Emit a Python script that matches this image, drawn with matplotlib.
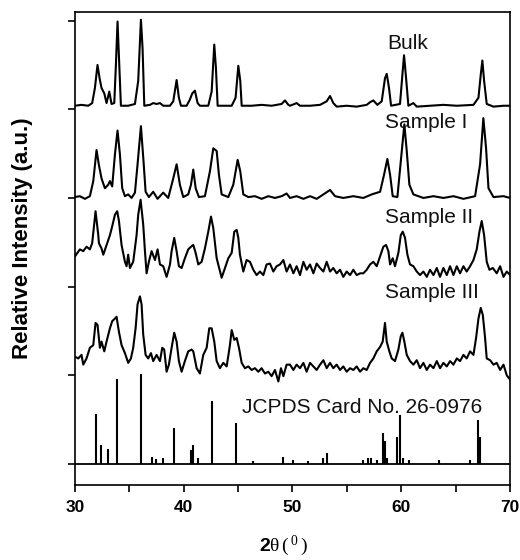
import matplotlib
matplotlib.use('Agg')
import matplotlib.pyplot as plt
from matplotlib.ticker import MultipleLocator

plt.rcParams['font.family'] = ['Liberation Sans', 'DejaVu Sans']
plt.rcParams['mathtext.fontset'] = 'custom'
plt.rcParams['mathtext.rm'] = 'Liberation Serif'
plt.rcParams['mathtext.it'] = 'Liberation Serif:italic'
plt.rcParams['mathtext.bf'] = 'Liberation Sans:bold'

# --- data (2theta in degrees, stacked intensity in a.u.) ---
bulk_tt = [30.00, 30.61, 31.23, 31.59, 31.84, 32.08, 32.27, 32.45, 32.70, 32.91, 33.16, 33.37,
           33.62, 33.77, 33.92, 34.08, 34.23, 34.90, 35.52, 35.82, 36.07, 36.22, 36.38, 36.90,
           37.20, 37.51, 37.82, 38.12, 38.74, 39.04, 39.35, 39.56, 39.75, 40.27, 40.57, 40.79,
           41.03, 41.28, 41.49, 42.26, 42.57, 42.81, 42.96, 43.12, 44.41, 44.77, 45.02, 45.20,
           45.33, 46.24, 47.16, 48.08, 49.00, 49.31, 49.62, 49.77, 50.38, 50.69, 51.61, 52.53,
           53.14, 53.45, 53.75, 54.06, 54.98, 55.90, 56.82, 57.13, 57.43, 57.80, 58.20, 58.50,
           58.66, 58.87, 59.06, 59.88, 60.10, 60.25, 60.44, 60.65, 61.11, 61.42, 62.64, 63.87,
           65.10, 66.63, 67.09, 67.30, 67.45, 67.61, 67.85, 68.47, 69.39, 70.00]
bulk_y = [4.04, 4.05, 4.04, 4.07, 4.24, 4.50, 4.35, 4.24, 4.18, 4.07, 4.20, 4.06,
          4.07, 4.50, 4.99, 4.50, 4.04, 4.04, 4.06, 4.32, 5.01, 4.69, 4.04, 4.05,
          4.07, 4.06, 4.07, 4.04, 4.04, 4.09, 4.33, 4.13, 4.04, 4.04, 4.11, 4.18,
          4.21, 4.07, 4.04, 4.04, 4.20, 4.73, 4.47, 4.04, 4.04, 4.13, 4.49, 4.32,
          4.04, 4.04, 4.05, 4.04, 4.06, 4.10, 4.05, 4.04, 4.07, 4.04, 4.04, 4.05,
          4.09, 4.15, 4.07, 4.03, 4.04, 4.03, 4.05, 4.08, 4.10, 4.05, 4.09, 4.35,
          4.40, 4.24, 4.04, 4.06, 4.39, 4.61, 4.35, 4.04, 4.07, 4.03, 4.04, 4.05,
          4.04, 4.05, 4.13, 4.39, 4.55, 4.32, 4.06, 4.03, 4.04, 4.04]

s1_tt = [30.00, 30.46, 30.92, 31.38, 31.69, 31.99, 32.21, 32.45, 32.76, 33.07, 33.22, 33.43,
         33.68, 33.92, 34.14, 34.35, 34.60, 34.90, 35.21, 35.52, 35.76, 36.07, 36.31, 36.50,
         36.80, 37.20, 37.60, 38.12, 38.58, 39.04, 39.35, 39.65, 39.96, 40.42, 40.67, 40.88,
         41.10, 41.40, 41.95, 42.41, 42.72, 43.03, 43.24, 43.49, 44.10, 44.56, 44.96, 45.20,
         45.48, 45.94, 46.55, 47.16, 47.78, 48.39, 49.00, 49.46, 49.77, 50.38, 51.00, 51.61,
         52.22, 52.84, 53.45, 53.91, 54.67, 55.59, 56.51, 57.28, 58.05, 58.41, 58.72, 58.97,
         59.21, 59.64, 59.95, 60.28, 60.50, 60.74, 61.11, 62.03, 62.95, 63.87, 64.79, 65.71,
         66.78, 67.24, 67.54, 67.79, 68.01, 68.47, 69.39, 70.00]
s1_y = [3.01, 3.02, 2.99, 3.02, 3.19, 3.54, 3.37, 3.22, 3.11, 3.15, 3.19, 3.13,
        3.49, 3.76, 3.49, 3.11, 3.02, 3.04, 3.00, 3.06, 3.38, 3.81, 3.41, 3.07,
        3.01, 3.07, 2.99, 3.06, 3.00, 3.22, 3.38, 3.15, 3.01, 3.04, 3.15, 3.32,
        3.11, 3.01, 3.02, 3.30, 3.56, 3.53, 3.26, 3.04, 3.01, 3.15, 3.43, 3.30,
        3.04, 3.01, 3.02, 2.99, 3.02, 3.00, 3.02, 3.05, 3.00, 3.02, 2.99, 3.02,
        2.99, 3.04, 3.09, 3.02, 3.00, 3.02, 3.00, 3.04, 3.07, 3.26, 3.44, 3.26,
        3.02, 3.01, 3.41, 3.83, 3.53, 3.15, 3.04, 3.00, 3.02, 3.00, 3.02, 2.99,
        3.02, 3.38, 3.90, 3.56, 3.11, 3.01, 3.02, 3.00]

s2_tt = [30.00, 30.46, 30.77, 31.07, 31.38, 31.59, 31.90, 32.15, 32.21, 32.45, 32.61, 32.91,
         33.22, 33.43, 33.68, 33.89, 34.05, 34.29, 34.60, 34.75, 34.90, 35.06, 35.36, 35.67,
         35.82, 36.04, 36.28, 36.44, 36.59, 36.80, 37.05, 37.36, 37.60, 37.82, 38.12, 38.43,
         38.74, 38.89, 39.13, 39.35, 39.56, 39.81, 40.11, 40.42, 40.67, 40.88, 41.10, 41.34,
         41.65, 41.95, 42.26, 42.51, 42.72, 43.03, 43.49, 43.79, 44.10, 44.41, 44.65, 44.87,
         45.02, 45.17, 45.48, 45.78, 46.09, 46.40, 46.70, 47.01, 47.32, 47.62, 47.93, 48.24,
         48.54, 48.85, 49.16, 49.46, 49.77, 50.08, 50.38, 50.69, 51.00, 51.30, 51.61, 51.92,
         52.22, 52.53, 52.84, 53.14, 53.45, 53.75, 54.06, 54.37, 54.67, 54.98, 55.29, 55.59,
         55.90, 56.21, 56.51, 56.82, 57.13, 57.43, 57.74, 58.05, 58.35, 58.60, 58.81, 58.97,
         59.21, 59.42, 59.73, 59.95, 60.13, 60.34, 60.56, 60.80, 61.11, 61.42, 61.72, 62.03,
         62.34, 62.64, 62.95, 63.26, 63.56, 63.87, 64.18, 64.48, 64.79, 65.10, 65.40, 65.71,
         66.01, 66.32, 66.63, 66.93, 67.18, 67.39, 67.61, 67.85, 68.10, 68.41, 68.77, 69.08,
         69.39, 69.69, 70.00]
s2_y = [2.34, 2.42, 2.40, 2.45, 2.42, 2.49, 2.85, 2.58, 2.49, 2.43, 2.36, 2.47,
        2.58, 2.68, 2.81, 2.85, 2.74, 2.47, 2.28, 2.23, 2.36, 2.21, 2.28, 2.58,
        2.81, 2.98, 2.70, 2.40, 2.15, 2.28, 2.40, 2.30, 2.42, 2.25, 2.23, 2.11,
        2.25, 2.40, 2.55, 2.40, 2.23, 2.21, 2.32, 2.42, 2.45, 2.47, 2.38, 2.25,
        2.28, 2.43, 2.62, 2.79, 2.66, 2.32, 2.10, 2.21, 2.32, 2.38, 2.62, 2.64,
        2.55, 2.36, 2.17, 2.30, 2.28, 2.19, 2.13, 2.17, 2.13, 2.25, 2.26, 2.17,
        2.23, 2.25, 2.30, 2.17, 2.25, 2.15, 2.23, 2.13, 2.28, 2.19, 2.25, 2.15,
        2.26, 2.21, 2.17, 2.28, 2.17, 2.21, 2.15, 2.19, 2.11, 2.17, 2.13, 2.19,
        2.13, 2.15, 2.15, 2.19, 2.25, 2.28, 2.23, 2.34, 2.45, 2.47, 2.40, 2.25,
        2.32, 2.23, 2.38, 2.58, 2.62, 2.55, 2.36, 2.25, 2.23, 2.17, 2.13, 2.17,
        2.11, 2.19, 2.13, 2.21, 2.11, 2.21, 2.13, 2.23, 2.13, 2.23, 2.15, 2.23,
        2.17, 2.23, 2.30, 2.42, 2.62, 2.74, 2.58, 2.28, 2.19, 2.21, 2.15, 2.23,
        2.11, 2.17, 2.13]

s3_tt = [30.00, 30.31, 30.61, 30.77, 31.07, 31.38, 31.69, 31.90, 32.08, 32.30, 32.45, 32.70,
         32.91, 33.22, 33.43, 33.68, 33.83, 34.05, 34.29, 34.60, 34.90, 35.15, 35.36, 35.58,
         35.76, 35.98, 36.13, 36.28, 36.50, 36.74, 36.99, 37.20, 37.51, 37.82, 38.03, 38.21,
         38.43, 38.64, 38.89, 39.13, 39.35, 39.56, 39.81, 40.11, 40.42, 40.73, 40.88, 41.19,
         41.49, 41.80, 42.11, 42.35, 42.57, 42.81, 43.03, 43.33, 43.64, 43.95, 44.25, 44.41,
         44.65, 44.87, 45.08, 45.33, 45.63, 45.94, 46.24, 46.55, 46.86, 47.16, 47.47, 47.78,
         48.08, 48.39, 48.70, 48.94, 49.16, 49.46, 49.77, 50.08, 50.38, 50.69, 51.00, 51.30,
         51.61, 51.92, 52.22, 52.53, 52.84, 53.14, 53.45, 53.75, 54.06, 54.37, 54.67, 54.98,
         55.29, 55.59, 55.90, 56.21, 56.51, 56.82, 57.13, 57.43, 57.74, 58.05, 58.29, 58.50,
         58.66, 58.90, 59.12, 59.42, 59.73, 59.95, 60.10, 60.28, 60.50, 60.80, 61.11, 61.42,
         61.72, 62.03, 62.34, 62.64, 62.95, 63.26, 63.56, 63.87, 64.18, 64.48, 64.79, 65.10,
         65.40, 65.71, 66.01, 66.32, 66.63, 66.87, 67.09, 67.30, 67.49, 67.70, 67.85, 68.16,
         68.47, 68.77, 69.08, 69.39, 69.69, 70.00]
s3_y = [1.21, 1.19, 1.23, 1.12, 1.19, 1.31, 1.34, 1.59, 1.57, 1.31, 1.38, 1.27,
        1.38, 1.53, 1.61, 1.64, 1.66, 1.49, 1.34, 1.25, 1.14, 1.19, 1.31, 1.53,
        1.80, 1.89, 1.80, 1.46, 1.23, 1.19, 1.25, 1.16, 1.23, 1.16, 1.31, 1.29,
        1.04, 1.12, 1.31, 1.48, 1.38, 1.16, 1.04, 1.16, 1.27, 1.29, 1.27, 1.08,
        1.02, 1.23, 1.31, 1.53, 1.53, 1.38, 1.16, 1.08, 1.14, 1.10, 1.34, 1.51,
        1.40, 1.42, 1.31, 1.14, 1.08, 1.10, 1.06, 1.08, 1.04, 1.08, 1.02, 1.04,
        0.99, 1.06, 0.93, 1.08, 0.99, 1.12, 1.12, 1.06, 1.12, 1.08, 1.14, 1.04,
        1.14, 1.10, 1.06, 1.12, 1.17, 1.08, 1.14, 1.08, 1.12, 1.06, 1.10, 1.04,
        1.08, 1.06, 1.10, 1.04, 1.08, 1.06, 1.14, 1.19, 1.27, 1.32, 1.38, 1.59,
        1.38, 1.27, 1.19, 1.16, 1.29, 1.44, 1.48, 1.38, 1.23, 1.16, 1.12, 1.17,
        1.08, 1.14, 1.06, 1.12, 1.08, 1.16, 1.08, 1.14, 1.10, 1.16, 1.12, 1.19,
        1.16, 1.23, 1.19, 1.27, 1.23, 1.42, 1.64, 1.76, 1.68, 1.42, 1.19, 1.17,
        1.12, 1.14, 1.06, 1.12, 1.00, 0.95]

# JCPDS 26-0976 reference lines
ref_tt = [31.96, 32.36, 33.00, 33.83, 36.04, 37.11, 37.42, 38.12, 39.13, 40.67, 40.82, 41.34,
          42.57, 44.83, 46.34, 49.16, 50.08, 51.46, 52.77, 53.14, 56.45, 56.97, 57.19, 57.80,
          58.29, 58.50, 58.72, 59.64, 59.88, 60.19, 60.71, 63.47, 66.32, 67.03, 67.24]
ref_h = [0.56, 0.21, 0.17, 0.96, 1.01, 0.075, 0.06, 0.065, 0.41, 0.16, 0.21, 0.065,
         0.71, 0.46, 0.03, 0.075, 0.045, 0.03, 0.065, 0.12, 0.04, 0.065, 0.065, 0.045,
         0.35, 0.26, 0.065, 0.30, 0.55, 0.065, 0.045, 0.045, 0.045, 0.50, 0.30]

traces = [(bulk_tt, bulk_y), (s1_tt, s1_y), (s2_tt, s2_y), (s3_tt, s3_y)]
labels = ['Bulk', 'Sample I', 'Sample II', 'Sample III', 'JCPDS Card No. 26-0976']
label_pos = [(58.69, 4.68), (58.5, 3.79), (58.5, 2.72), (58.5, 1.87), (45.36, 0.575)]

fig = plt.figure(figsize=(5.2, 5.6), dpi=100)
ax = fig.add_axes([0.144, 0.134, 0.837, 0.845])

for tt, y in traces:
    ax.plot(tt, y, color='black', lw=1.5)

ax.vlines(ref_tt, 0, ref_h, color='black', lw=1.5)
ax.hlines(0, 30, 70, color='black', lw=1.3)

for txt, (x, y) in zip(labels, label_pos):
    ax.text(x, y, txt, fontsize=15, va='baseline', ha='left', color='#111111')

ax.set_xlim(30, 70)
ax.set_ylim(-0.237, 5.10)
ax.xaxis.set_major_locator(MultipleLocator(10))
ax.xaxis.set_minor_locator(MultipleLocator(5))
ax.set_yticks([0, 1, 2, 3, 4, 5])
ax.set_yticklabels([])
ax.tick_params(axis='both', which='both', direction='out', length=5, width=1.2,
               top=False, right=False)
ax.tick_params(axis='x', labelsize=12.5, pad=6)
for lab in ax.get_xticklabels():
    lab.set_fontweight('bold')
for sp in ax.spines.values():
    sp.set_linewidth(1.2)

fig.text(23 / 520, 1 - 238 / 560, 'Relative Intensity (a.u.)', rotation=90,
         fontsize=16, fontweight='bold', ha='center', va='center')
fig.text(283.5 / 520, 1 - 551 / 560, r'$\mathbf{2}\mathrm{\theta}\,(\,^{0}\,)$',
         fontsize=14, ha='center', va='baseline')

fig.savefig('out.png', dpi=100)
